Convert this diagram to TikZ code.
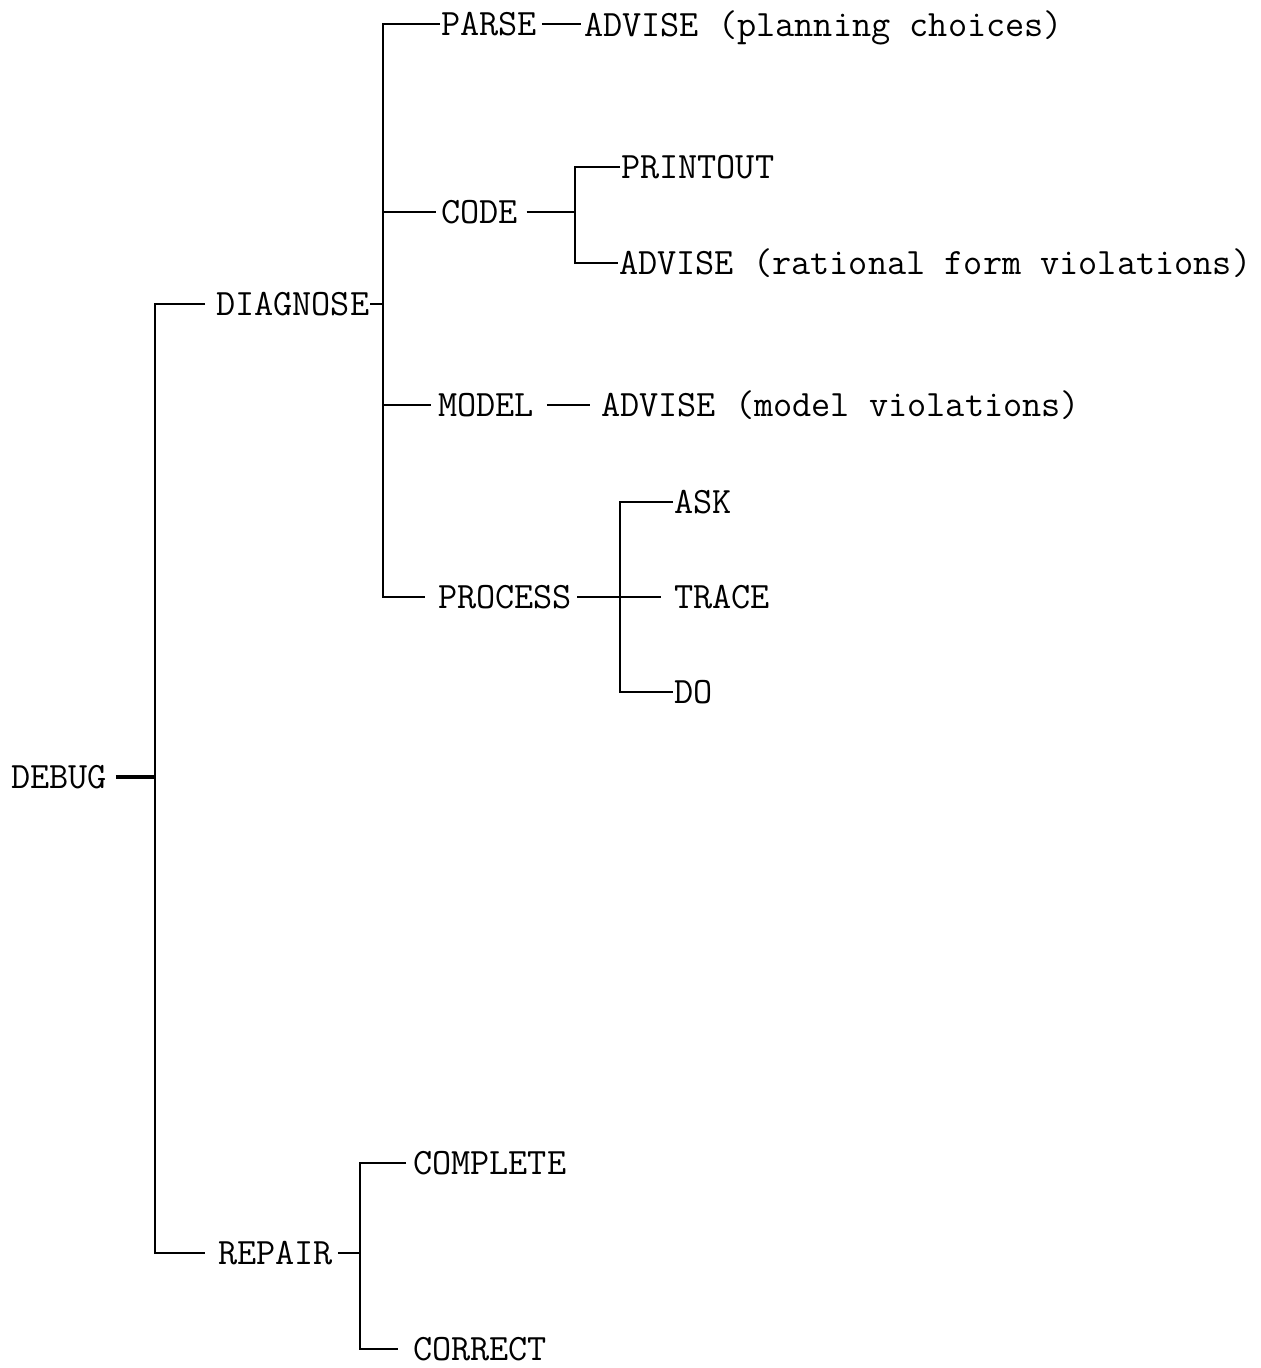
\documentclass[tikz,border=0pt]{standalone}
\usepackage{fontspec}

\begin{document}
\begin{tikzpicture}[x=0.5pt, y=-0.5pt, line width=1pt,
		every node/.style={font=\ttfamily\fontsize{18.6pt}{20pt}\selectfont, anchor=west, inner sep=0pt, text height=11.3pt, text depth=0pt}]
	
		\useasboundingbox (0, 0) rectangle (1260, 1368);
	
		\node (debug) at (10, 777) {DEBUG}; % Корень
		\node (diag) at (215, 304) {DIAGNOSE};
		\node (rep) at (217, 1253) {REPAIR};
		
		\node (parse) at (440, 24) {PARSE};
		\node (code) at (440, 212) {CODE};
		\node (model) at (437, 405) {MODEL};
		\node (proc) at (437, 597) {PROCESS};
		
		\node (advP) at (583, 25) {ADVISE (planning choices)};
		\node (print) at (620, 167) {PRINTOUT};
		\node (advR) at (618, 263) {ADVISE (rational form violations)};
		\node (advM) at (600, 405) {ADVISE (model violations)};
		
		\node (ask) at (673, 502) {ASK};
		\node (trace) at (673, 597) {TRACE};
		\node (do) at (673, 692) {DO};
		
		\node (compl) at (412, 1163) {COMPLETE};
		\node (corr) at (412, 1349) {CORRECT};
		
		\coordinate (m) at (155, 777); % Главная шина
		\coordinate (b2) at (383, 304);
		\coordinate (b3) at (575, 212);
		\coordinate (b4) at (620, 597);
		\coordinate (b5) at (360, 1253);
	
		\draw[line width=2pt, shorten <=4pt] (debug.east) -- (m);
		\draw[shorten <=5pt, shorten >=6pt] (diag.west) -| (m) |- (rep.west);
		
		\draw (diag.east) -- (b2);
		\draw[shorten >=6pt] (parse.west) -| (b2) |- (proc.west);
		\draw[shorten >=2pt] (code.west -| b2) -- (code.west);
		\draw[shorten >=3pt] (model.west -| b2) -- (model.west);
		
		\draw[shorten <=2pt, shorten >=1pt] (parse.east) -- (parse.east -| advP.west);
		\draw[shorten <=4pt] (code.east) -- (b3);
		\draw (print.west) -| (b3) |- (advR.west);
		\draw[shorten <=6pt, shorten >=5pt] (model.east) -- (advM.west);
		
		\draw[shorten <=2pt, shorten >=6pt] (proc.east) -- (trace.west);
		\draw (ask.west) -| (b4) |- (do.west);
		
		\draw[shorten <=2pt] (rep.east) -- (b5);
		\draw[shorten <=3pt, shorten >=7pt] (compl.west) -| (b5) |- (corr.west);
	
	\end{tikzpicture}
\end{document}
